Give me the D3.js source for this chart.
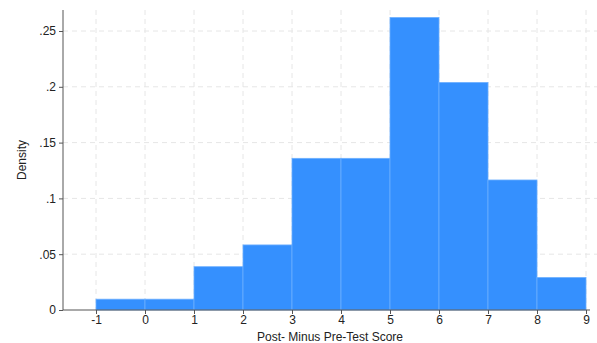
<!DOCTYPE html>
<html><head><meta charset="utf-8">
<script src="https://cdn.jsdelivr.net/npm/d3@7"></script>
<style>body{margin:0;background:#fff}svg{display:block}text{font-family:"Liberation Sans",Arial,sans-serif}</style>
</head><body><svg id="c" width="597" height="343"></svg>
<script>
const binStarts = [-1,0,1,2,3,4,5,6,7,8];
const binWidth = 1;
const densities = [0.0097,0.0097,0.0388,0.0583,0.1359,0.1359,0.2621,0.2039,0.1165,0.0291];
const xTicks = [-1,0,1,2,3,4,5,6,7,8,9];
const xTickLabels = ["-1","0","1","2","3","4","5","6","7","8","9"];
const yTicks = [0,0.05,0.1,0.15,0.2,0.25];
const yTickLabels = ["0",".05",".1",".15",".2",".25"];

const svg = d3.select("#c");
const pLeft = 63, pRight = 590, pTop = 10, pBottom = 310;
const x = d3.scaleLinear().domain([-1,9]).range([96,586]);
const y = d3.scaleLinear().domain([0,0.25]).range([310,31]);

// grid
const g = svg.append("g");
g.selectAll(".gx").data(xTicks).enter().append("line")
 .attr("x1",d=>x(d)).attr("x2",d=>x(d)).attr("y1",pTop).attr("y2",pBottom)
 .attr("stroke","#e6e6e6").attr("stroke-dasharray","5,4").attr("stroke-width",1);
g.selectAll(".gy").data(yTicks.slice(1)).enter().append("line")
 .attr("x1",pLeft).attr("x2",597).attr("y1",d=>y(d)).attr("y2",d=>y(d))
 .attr("stroke","#e6e6e6").attr("stroke-dasharray","5,4").attr("stroke-width",1);

// bars
svg.append("g").selectAll("rect").data(binStarts).enter().append("rect")
 .attr("x",d=>x(d)).attr("width",d=>x(d+binWidth)-x(d))
 .attr("y",(d,i)=>y(densities[i])).attr("height",(d,i)=>y(0)-y(densities[i]))
 .attr("fill","#3590fe").attr("stroke","#6db0ff").attr("stroke-width",0.8);

// axes
const xa = svg.append("g").attr("transform",`translate(0,${pBottom})`)
 .call(d3.axisBottom(x).tickValues(xTicks).tickFormat((d,i)=>xTickLabels[i]).tickSize(4).tickPadding(1));
xa.select(".domain").remove();
xa.append("line").attr("x1",pLeft).attr("x2",pRight).attr("y1",0).attr("y2",0).attr("stroke","#555");
xa.selectAll(".tick line").attr("stroke","#555");
xa.selectAll("text").attr("font-size",12).attr("fill","#222");

const ya = svg.append("g").attr("transform",`translate(${pLeft},0)`)
 .call(d3.axisLeft(y).tickValues(yTicks).tickFormat((d,i)=>yTickLabels[i]).tickSize(4).tickPadding(3));
ya.select(".domain").remove();
ya.append("line").attr("x1",0).attr("x2",0).attr("y1",pTop).attr("y2",pBottom).attr("stroke","#555");
ya.selectAll(".tick line").attr("stroke","#555");
ya.selectAll("text").attr("font-size",12).attr("fill","#222");

svg.append("text").attr("x",330).attr("y",341).attr("text-anchor","middle")
 .attr("font-size",12).attr("fill","#222").text("Post- Minus Pre-Test Score");
svg.append("text").attr("transform","translate(26,160) rotate(-90)").attr("text-anchor","middle")
 .attr("font-size",12).attr("fill","#222").text("Density");
</script></body></html>
